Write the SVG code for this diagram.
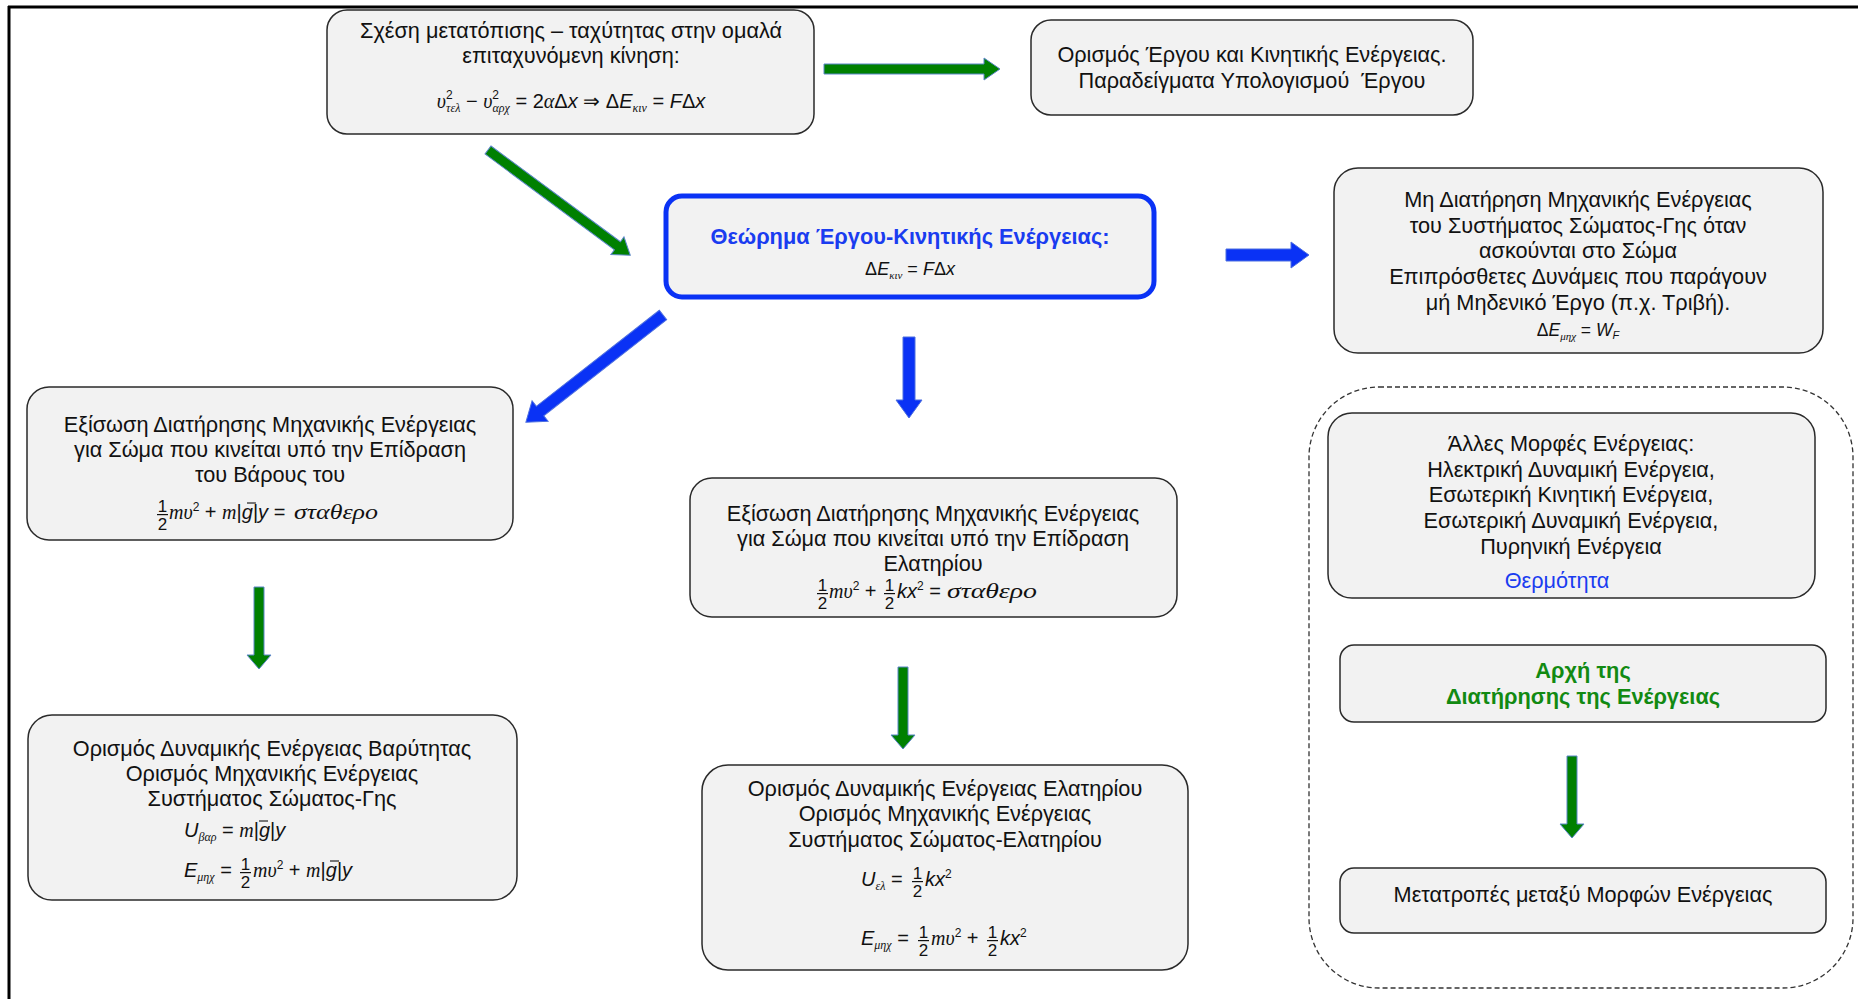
<svg xmlns="http://www.w3.org/2000/svg" xmlns:xlink="http://www.w3.org/1999/xlink" width="1863" height="999" viewBox="0 0 1863 999">
<style>
.box{fill:#f2f2f2;stroke:#2a2a2a;stroke-width:1.5}
.t{font-family:"Liberation Sans",Arial,sans-serif;font-size:21.7px;fill:#111;text-anchor:middle}
.eq{font-family:"Liberation Sans",Arial,sans-serif;font-size:20px;fill:#111}
.i{font-style:italic}
.g{font-family:"Liberation Serif","Times New Roman",serif;font-style:italic}
.sb{font-size:12px}
.sp{font-size:12px;font-style:normal}
.fr text{font-family:"Liberation Sans",Arial,sans-serif;font-size:17px;fill:#111;text-anchor:middle}
.ga{fill:#008000;stroke:#5b86c8;stroke-width:1}
.ba{fill:#0a32f5;stroke:#4d6fe0;stroke-width:1}
.vec{stroke:#111;stroke-width:1.1}
.bt{font-family:"Liberation Sans",Arial,sans-serif;font-size:21.8px;font-weight:bold;text-anchor:middle}
</style>
<defs>
<g id="half" class="fr"><text x="5.5" y="-7.5">1</text><rect x="0" y="-5" width="11" height="1.2" fill="#111"/><text x="5.5" y="11">2</text></g>
</defs>
<rect width="1863" height="999" fill="#fff"/>
<line x1="8" y1="7" x2="1858" y2="7" stroke="#000" stroke-width="3"/>
<line x1="9" y1="6" x2="9" y2="999" stroke="#000" stroke-width="3"/>

<g id="connectors">
<polygon class="ga" transform="translate(824,69)" points="0,-5 160,-5 160,-11 176,0 160,11 160,5 0,5"/>
<polygon class="ga" transform="translate(488,150) rotate(36.5)" points="0,-5 161,-5 161,-11 177,0 161,11 161,5 0,5"/>
<polygon class="ba" transform="translate(1226,255)" points="0,-6 65,-6 65,-13 83,0 65,13 65,6 0,6"/>
<polygon class="ba" transform="translate(663,315) rotate(142)" points="0,-6 156,-6 156,-13 174,0 156,13 156,6 0,6"/>
<polygon class="ba" transform="translate(909,337) rotate(90)" points="0,-6 63,-6 63,-13 81,0 63,13 63,6 0,6"/>
<polygon class="ga" transform="translate(259,587) rotate(90)" points="0,-5 68,-5 68,-12 82,0 68,12 68,5 0,5"/>
<polygon class="ga" transform="translate(903,667) rotate(90)" points="0,-5 68,-5 68,-12 82,0 68,12 68,5 0,5"/>
<polygon class="ga" transform="translate(1572,756) rotate(90)" points="0,-5 68,-5 68,-12 82,0 68,12 68,5 0,5"/>
</g>

<g id="n-top">
<rect class="box" x="327" y="10" width="487" height="124" rx="20"/>
<text class="t" x="571" y="38">Σχέση μετατόπισης – ταχύτητας στην ομαλά</text>
<text class="t" x="571" y="63">επιταχυνόμενη κίνηση:</text>
<text class="eq" x="571" y="108" text-anchor="middle"><tspan class="g">υ</tspan><tspan class="sp" dy="-9">2</tspan><tspan class="g sb" dx="-6.5" dy="13">τελ</tspan><tspan dy="-4"> − </tspan><tspan class="g">υ</tspan><tspan class="sp" dy="-9">2</tspan><tspan class="g sb" dx="-6.5" dy="13">αρχ</tspan><tspan dy="-4"> = 2</tspan><tspan class="g">α</tspan>Δ<tspan class="i">x</tspan> ⇒ Δ<tspan class="i">E</tspan><tspan class="g sb" dy="4">κιν</tspan><tspan dy="-4"> = </tspan><tspan class="i">F</tspan>Δ<tspan class="i">x</tspan></text>
</g>

<g id="n-work">
<rect class="box" x="1031" y="20" width="442" height="95" rx="20"/>
<text class="t" x="1252" y="62">Ορισμός Έργου και Κινητικής Ενέργειας.</text>
<text class="t" x="1252" y="88">Παραδείγματα Υπολογισμού&#160; Έργου</text>
</g>

<g id="n-theorem">
<rect x="666" y="196" width="488" height="101" rx="16" fill="#f2f2f2" stroke="#0a32f5" stroke-width="5"/>
<text class="bt" x="910" y="244" style="fill:#1a3cf0">Θεώρημα Έργου-Κινητικής Ενέργειας:</text>
<text class="eq" x="910" y="275" text-anchor="middle" style="font-size:18px">Δ<tspan class="i">E</tspan><tspan class="g sb" style="font-size:11px" dy="4">κιν</tspan><tspan dy="-4"> = </tspan><tspan class="i">F</tspan>Δ<tspan class="i">x</tspan></text>
</g>

<g id="n-nonconserv">
<rect class="box" x="1334" y="168" width="489" height="185" rx="24"/>
<text class="t" x="1578" y="207">Μη Διατήρηση Μηχανικής Ενέργειας</text>
<text class="t" x="1578" y="233">του Συστήματος Σώματος-Γης όταν</text>
<text class="t" x="1578" y="258">ασκούνται στο Σώμα</text>
<text class="t" x="1578" y="284">Επιπρόσθετες Δυνάμεις που παράγουν</text>
<text class="t" x="1578" y="310">μή Μηδενικό Έργο (π.χ. Τριβή).</text>
<text class="eq" x="1578" y="336" text-anchor="middle" style="font-size:17.5px">Δ<tspan class="i">E</tspan><tspan class="g sb" style="font-size:11px" dy="4">μηχ</tspan><tspan dy="-4"> = </tspan><tspan class="i">W</tspan><tspan class="i sb" style="font-size:11px" dy="3">F</tspan></text>
</g>

<g id="n-grav-eq">
<rect class="box" x="27" y="387" width="486" height="153" rx="22"/>
<text class="t" x="270" y="432">Εξίσωση Διατήρησης Μηχανικής Ενέργειας</text>
<text class="t" x="270" y="457">για Σώμα που κινείται υπό την Επίδραση</text>
<text class="t" x="270" y="482">του Βάρους του</text>
<use xlink:href="#half" x="157" y="519"/>
<text class="eq" x="169" y="519"><tspan class="g">mυ</tspan><tspan class="sp" dy="-8">2</tspan><tspan dy="8"> + </tspan><tspan class="g">m</tspan>|<tspan class="i">g</tspan>|<tspan class="i">y</tspan> = </text>
<text class="eq g" x="294" y="519" textLength="84" lengthAdjust="spacingAndGlyphs">σταθερο</text>
<line class="vec" x1="247" y1="503" x2="256" y2="503"/>
</g>

<g id="n-grav-def">
<rect class="box" x="28" y="715" width="489" height="185" rx="24"/>
<text class="t" x="272" y="756">Ορισμός Δυναμικής Ενέργειας Βαρύτητας</text>
<text class="t" x="272" y="781">Ορισμός Μηχανικής Ενέργειας</text>
<text class="t" x="272" y="806">Συστήματος Σώματος-Γης</text>
<text class="eq" x="184" y="837"><tspan class="i">U</tspan><tspan class="g sb" dy="4">βαρ</tspan><tspan dy="-4"> = </tspan><tspan class="g">m</tspan>|<tspan class="i">g</tspan>|<tspan class="i">y</tspan></text>
<line class="vec" x1="259" y1="821" x2="268" y2="821"/>
<text class="eq" x="184" y="877"><tspan class="i">E</tspan><tspan class="g sb" dy="4">μηχ</tspan><tspan dy="-4"> = </tspan></text>
<use xlink:href="#half" x="240" y="877"/>
<text class="eq" x="253" y="877"><tspan class="g">mυ</tspan><tspan class="sp" dy="-8">2</tspan><tspan dy="8"> + </tspan><tspan class="g">m</tspan>|<tspan class="i">g</tspan>|<tspan class="i">y</tspan></text>
<line class="vec" x1="330" y1="861" x2="339" y2="861"/>
</g>

<g id="n-spring-eq">
<rect class="box" x="690" y="478" width="487" height="139" rx="22"/>
<text class="t" x="933" y="521">Εξίσωση Διατήρησης Μηχανικής Ενέργειας</text>
<text class="t" x="933" y="546">για Σώμα που κινείται υπό την Επίδραση</text>
<text class="t" x="933" y="571">Ελατηρίου</text>
<use xlink:href="#half" x="817" y="598"/>
<text class="eq" x="829" y="598"><tspan class="g">mυ</tspan><tspan class="sp" dy="-8">2</tspan><tspan dy="8"> + </tspan></text>
<use xlink:href="#half" x="884" y="598"/>
<text class="eq" x="897" y="598"><tspan class="i">kx</tspan><tspan class="sp" dy="-8">2</tspan><tspan dy="8"> = </tspan></text>
<text class="eq g" x="947" y="598" textLength="90" lengthAdjust="spacingAndGlyphs">σταθερο</text>
</g>

<g id="n-spring-def">
<rect class="box" x="702" y="765" width="486" height="205" rx="26"/>
<text class="t" x="945" y="796">Ορισμός Δυναμικής Ενέργειας Ελατηρίου</text>
<text class="t" x="945" y="821">Ορισμός Μηχανικής Ενέργειας</text>
<text class="t" x="945" y="847">Συστήματος Σώματος-Ελατηρίου</text>
<text class="eq" x="861" y="886"><tspan class="i">U</tspan><tspan class="g sb" dy="4">ελ</tspan><tspan dy="-4"> = </tspan></text>
<use xlink:href="#half" x="912" y="886"/>
<text class="eq" x="925" y="886"><tspan class="i">kx</tspan><tspan class="sp" dy="-8">2</tspan></text>
<text class="eq" x="861" y="945"><tspan class="i">E</tspan><tspan class="g sb" dy="4">μηχ</tspan><tspan dy="-4"> = </tspan></text>
<use xlink:href="#half" x="918" y="945"/>
<text class="eq" x="931" y="945"><tspan class="g">mυ</tspan><tspan class="sp" dy="-8">2</tspan><tspan dy="8"> + </tspan></text>
<use xlink:href="#half" x="987" y="945"/>
<text class="eq" x="1000" y="945"><tspan class="i">kx</tspan><tspan class="sp" dy="-8">2</tspan></text>
</g>

<g id="energy-group">
<rect x="1309" y="387" width="544" height="601" rx="70" fill="none" stroke="#333" stroke-width="1.3" stroke-dasharray="5 3"/>
</g>

<g id="n-forms">
<rect class="box" x="1328" y="413" width="487" height="185" rx="24"/>
<text class="t" x="1571" y="451">Άλλες Μορφές Ενέργειας:</text>
<text class="t" x="1571" y="477">Ηλεκτρική Δυναμική Ενέργεια,</text>
<text class="t" x="1571" y="502">Εσωτερική Κινητική Ενέργεια,</text>
<text class="t" x="1571" y="528">Εσωτερική Δυναμική Ενέργεια,</text>
<text class="t" x="1571" y="554">Πυρηνική Ενέργεια</text>
<text class="t" x="1557" y="588" style="fill:#1a3cf0">Θερμότητα</text>
</g>

<g id="n-principle">
<rect class="box" x="1340" y="645" width="486" height="77" rx="14"/>
<text class="bt" x="1583" y="678" style="fill:#128a12">Αρχή της</text>
<text class="bt" x="1583" y="704" style="fill:#128a12">Διατήρησης της Ενέργειας</text>
</g>

<g id="n-conversions">
<rect class="box" x="1340" y="868" width="486" height="65" rx="14"/>
<text class="t" x="1583" y="902">Μετατροπές μεταξύ Μορφών Ενέργειας</text>
</g>
</svg>
